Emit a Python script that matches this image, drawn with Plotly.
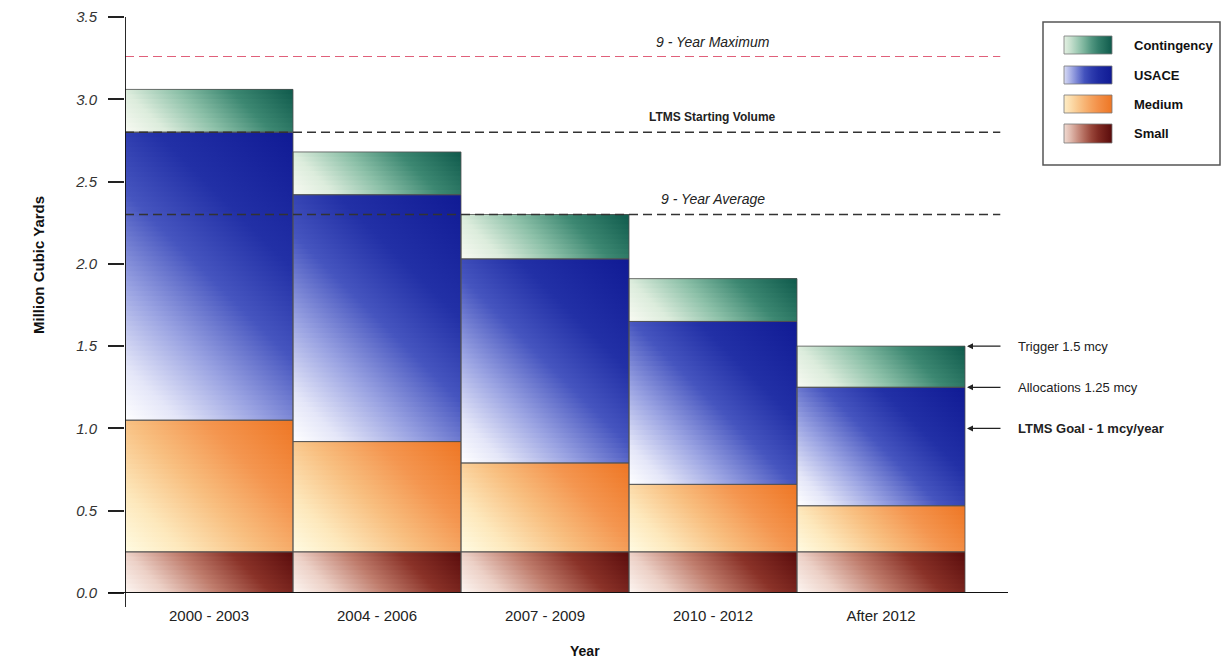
import math
import plotly.graph_objects as go

# ---- data (million cubic yards) ----
periods = ["2000 - 2003", "2004 - 2006", "2007 - 2009", "2010 - 2012", "After 2012"]
small = [0.25, 0.25, 0.25, 0.25, 0.25]
medium = [0.80, 0.67, 0.54, 0.41, 0.28]
usace = [1.75, 1.50, 1.24, 0.99, 0.72]
contingency = [0.26, 0.26, 0.27, 0.26, 0.25]

series_names = ["Small", "Medium", "USACE", "Contingency"]
series_values = [small, medium, usace, contingency]

# reference levels
nine_year_max = 3.26
ltms_start = 2.80
nine_year_avg = 2.30
trigger = 1.5
allocations = 1.25
ltms_goal = 1.0

y_ticks = [0.0, 0.5, 1.0, 1.5, 2.0, 2.5, 3.0, 3.5]

# ---- styling ----
FONT = "Liberation Sans, Arial, Helvetica, sans-serif"
scales = {
    "Contingency": [[0, "#f8faf2"], [0.2, "#dcecdc"], [0.45, "#8cc0a8"], [0.7, "#3d8872"], [1, "#0f5a4c"]],
    "USACE": [[0, "#ffffff"], [0.12, "#e4e6f8"], [0.3, "#9aa3e2"], [0.5, "#4655bf"], [0.7, "#2230a6"], [1, "#101a94"]],
    "Medium": [[0, "#fffbe2"], [0.2, "#fde8bc"], [0.45, "#f8bf80"], [0.7, "#f49650"], [1, "#ee7624"]],
    "Small": [[0, "#fdf6f2"], [0.2, "#ecd0c6"], [0.45, "#bf7c6c"], [0.7, "#8a3228"], [1, "#5a0c0c"]],
}
solid = {"Contingency": "#3d8872", "USACE": "#2230a6", "Medium": "#f49650", "Small": "#8a3228"}


def _rgb(h):
    h = h.lstrip("#")
    return [int(h[i:i + 2], 16) for i in (0, 2, 4)]


def sample(scale, t):
    for (t0, c0), (t1, c1) in zip(scale[:-1], scale[1:]):
        if t0 <= t <= t1:
            f = 0 if t1 == t0 else (t - t0) / (t1 - t0)
            a, b = _rgb(c0), _rgb(c1)
            return "rgb(%d,%d,%d)" % tuple(round(a[j] + (b[j] - a[j]) * f) for j in range(3))
    return scale[-1][1]


def sub_scale(scale, lo, hi, n=8):
    return [[k / (n - 1), sample(scale, lo + (hi - lo) * k / (n - 1))] for k in range(n)]


# ---- canvas geometry ----
W, H = 1222, 661
ML, MR, MT, MB = 125, 0, 17, 68
PW, PH = W - ML - MR, H - MT - MB
AXIS_W = 883                      # length of the x axis in px
X_RANGE = [-0.5, 4.756]
Y_RANGE = [0, 3.5]
KX = AXIS_W / (X_RANGE[1] - X_RANGE[0])   # px per category unit
KY = PH / (Y_RANGE[1] - Y_RANGE[0])       # px per million yd3

fig = go.Figure()

# stacked bars (solid base)
xs = list(range(len(periods)))
for name, vals in zip(series_names, series_values):
    fig.add_trace(go.Bar(x=xs, y=vals, name=name, width=1,
                         marker=dict(color=solid[name], line=dict(width=0)),
                         showlegend=False))


def diagonal_fill(x0, x1, y0, y1, scale, step_px=5):
    """Paint a rectangle with a bottom-left -> top-right gradient using
    horizontal-gradient strips whose start/stop shift with height."""
    w = (x1 - x0) * KX
    h = (y1 - y0) * KY
    n = max(1, math.ceil(h / step_px))
    out = []
    for k in range(n):
        yb = y0 + (y1 - y0) * k / n
        vm = h * (k + 0.5) / n
        start = x0 - vm / KX
        stop = x0 + (w + h - vm) / KX
        out.append(go.Scatter(
            x=[x0, x1, x1, x0, x0], y=[yb, yb, y1, y1, yb],
            mode="none", fill="toself",
            fillgradient=dict(type="horizontal", colorscale=scale,
                              start=start, stop=stop),
            hoverinfo="skip", showlegend=False))
    return out


outline_x, outline_y = [], []
for i in xs:
    base = 0.0
    for name, vals in zip(series_names, series_values):
        top = base + vals[i]
        for tr in diagonal_fill(i - 0.5, i + 0.5, base, top, scales[name]):
            fig.add_trace(tr)
        outline_x += [i - 0.5, i + 0.5, i + 0.5, i - 0.5, i - 0.5, None]
        outline_y += [base, base, top, top, base, None]
        base = top

fig.add_trace(go.Scatter(x=outline_x, y=outline_y, mode="lines",
                         line=dict(color="rgba(80,80,80,0.8)", width=1),
                         hoverinfo="skip", showlegend=False))

shapes = []
# reference lines
line_end = 4.71
for val, col, wd in [(nine_year_max, "#e0607a", 1.2),
                     (ltms_start, "#333333", 1.5),
                     (nine_year_avg, "#333333", 1.5)]:
    shapes.append(dict(type="line", xref="x", yref="y", x0=X_RANGE[0], x1=line_end,
                       y0=val, y1=val, layer="above",
                       line=dict(color=col, width=wd, dash="9px,5px")))

# axis lines (crossing at the origin)
shapes.append(dict(type="line", xref="x", yref="paper", x0=X_RANGE[0], x1=X_RANGE[0],
                   y0=-14 / PH, y1=1, line=dict(color="#111111", width=1.8), layer="above"))
shapes.append(dict(type="line", xref="paper", yref="y", x0=-17 / PW, x1=AXIS_W / PW,
                   y0=0, y1=0, line=dict(color="#111111", width=1.8), layer="above"))

# legend frame
shapes.append(dict(type="rect", xref="x2 domain", yref="y2 domain", x0=0, x1=1, y0=0, y1=1,
                   line=dict(color="#555555", width=1.5), fillcolor="white", layer="below"))

annotations = []
for txt, val, style, weight, size in [
    ("9 - Year Maximum", nine_year_max, "italic", "normal", 14),
    ("LTMS Starting Volume", ltms_start, "normal", "bold", 12),
    ("9 - Year Average", nine_year_avg, "italic", "normal", 14),
]:
    annotations.append(dict(x=3.0, y=val, xref="x", yref="y", text=txt, showarrow=False,
                            xanchor="center", yanchor="middle", yshift=15,
                            font=dict(family=FONT, size=size, color="#222222",
                                      style=style, weight=weight)))

# side notes for the last period
for txt, val, weight in [
    ("Trigger 1.5 mcy", trigger, "normal"),
    ("Allocations 1.25 mcy", allocations, "normal"),
    ("LTMS Goal - 1 mcy/year", ltms_goal, "bold"),
]:
    annotations.append(dict(x=4.5 + 2 / KX, y=val, xref="x", yref="y", text="",
                            showarrow=True, ax=35, ay=0, arrowhead=2, arrowsize=1,
                            arrowwidth=1.2, arrowcolor="#222222", standoff=0))
    annotations.append(dict(x=(1016 - ML) / PW, y=val, xref="paper", yref="y", text=txt,
                            showarrow=False, xanchor="left", yanchor="middle",
                            font=dict(family=FONT, size=13, color="#222222", weight=weight)))

# axis titles
annotations.append(dict(x=(38 - ML) / PW, y=(593 - 265) / PH, xref="paper", yref="paper",
                        text="Million Cubic Yards", textangle=-90, showarrow=False,
                        xanchor="center", yanchor="middle",
                        font=dict(family=FONT, size=15, color="#111111", weight="bold")))
annotations.append(dict(x=(585 - ML) / PW, y=(593 - 651) / PH, xref="paper", yref="paper",
                        text="Year", showarrow=False, xanchor="center", yanchor="middle",
                        font=dict(family=FONT, size=14, color="#111111", weight="bold")))

# legend entries (drawn in their own small axes, units = px inside the frame)
legend_rows = [("Contingency", 14, 32), ("USACE", 44, 62), ("Medium", 73, 91), ("Small", 102, 121)]
for name, ya, yb in legend_rows:
    fig.add_trace(go.Scatter(x=[21, 69, 69, 21, 21], y=[ya, ya, yb, yb, ya],
                             xaxis="x2", yaxis="y2", mode="lines", fill="toself",
                             line=dict(color="rgba(120,120,120,0.8)", width=1),
                             fillgradient=dict(type="horizontal",
                                               colorscale=sub_scale(scales[name], 0.15, 1.0)),
                             hoverinfo="skip", showlegend=False))
    annotations.append(dict(x=89, y=(ya + yb) / 2, xref="x2", yref="y2", text=name,
                            showarrow=False, xanchor="left", yanchor="middle",
                            font=dict(family=FONT, size=13, color="#111111", weight="bold")))

fig.update_layout(
    width=W, height=H,
    margin=dict(l=ML, r=MR, t=MT, b=MB, pad=0),
    barmode="stack", bargap=0,
    paper_bgcolor="white", plot_bgcolor="white",
    showlegend=False,
    font=dict(family=FONT, color="#222222"),
    xaxis=dict(domain=[0, AXIS_W / PW], range=X_RANGE, tickvals=xs, ticktext=periods,
               ticks="", showline=False, showgrid=False, zeroline=False,
               ticklabelstandoff=12,
               tickfont=dict(family=FONT, size=15, color="#222222"), fixedrange=True),
    yaxis=dict(range=Y_RANGE, tickvals=y_ticks, ticktext=[f"{v:.1f}" for v in y_ticks],
               ticks="outside", ticklen=16, tickwidth=1.5, tickcolor="#222222",
               showline=False, showgrid=False, zeroline=False,
               ticklabelstandoff=8,
               tickfont=dict(family=FONT, size=15, color="#333333", style="italic"),
               fixedrange=True),
    xaxis2=dict(domain=[(1043 - ML) / PW, (1220 - ML) / PW], range=[0, 177],
                anchor="y2", visible=False, fixedrange=True),
    yaxis2=dict(domain=[(593 - 165) / PH, (593 - 22) / PH], range=[143, 0],
                anchor="x2", visible=False, fixedrange=True),
    shapes=shapes,
    annotations=annotations,
)

fig.write_html("out.html")
